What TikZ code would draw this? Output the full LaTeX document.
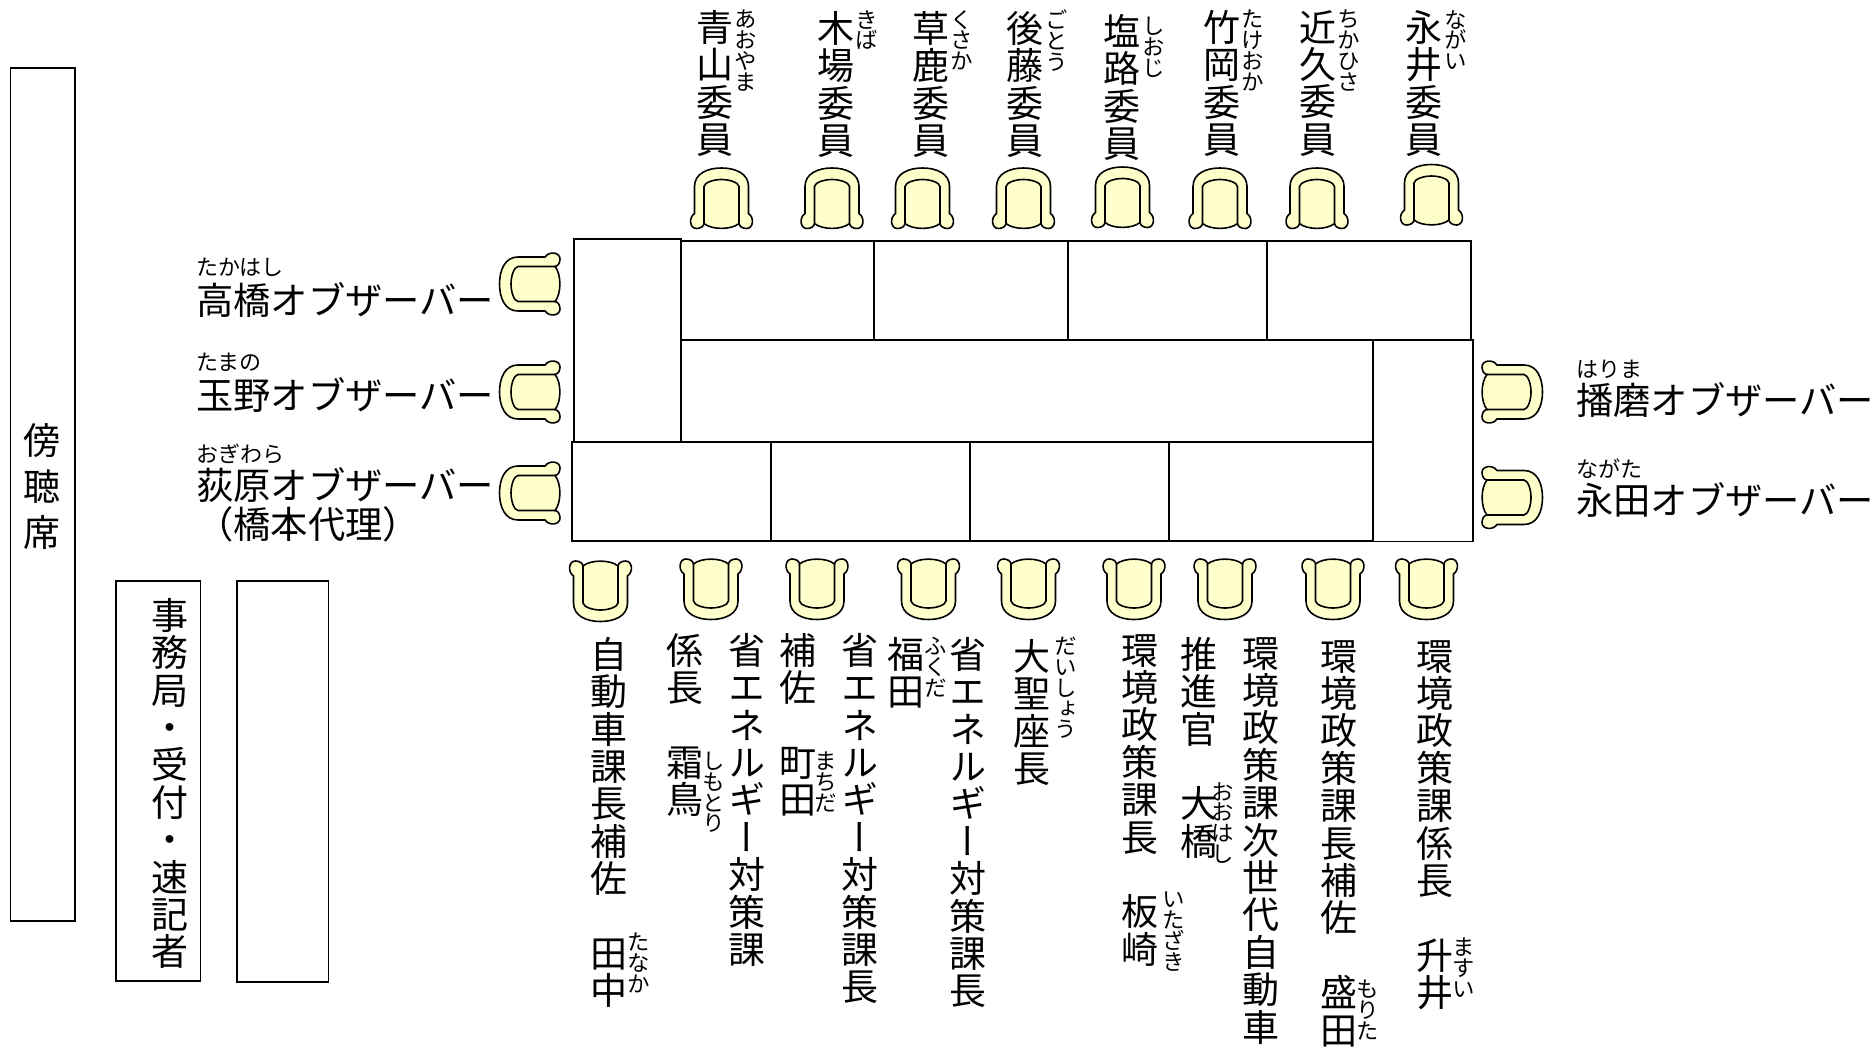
\documentclass[tikz,border=0pt]{standalone}
\usepackage{fontspec}
\newfontfamily\jpfont{Noto Sans CJK JP}
\newfontfamily\jpvert[RawFeature=+vert]{Noto Sans CJK JP}
\newcommand{\namefont}{\jpvert\fontsize{37}{37.4}\selectfont\lineskiplimit=-40pt\relax}
\newcommand{\rubyfont}{\jpvert\fontsize{22.5}{20.8}\selectfont\lineskiplimit=-40pt\relax}
\begin{document}
\begin{tikzpicture}[
		x=1pt,y=-1pt,
		vname/.style={anchor=north,inner sep=0pt,align=center,font=\namefont},
		vruby/.style={anchor=north,inner sep=0pt,align=center,font=\rubyfont},
		hname/.style={anchor=base west,inner sep=0pt,font=\jpfont\fontsize{37.3}{39}\selectfont},
		hruby/.style={anchor=base west,inner sep=0pt,font=\jpfont\fontsize{22}{24}\selectfont},
		tableline/.style={draw=black,line width=1.8pt},
		chair/.pic={
				\draw[line width=1.6pt,fill=chairyellow] (-27,-12) .. controls (-27,-25) and (-14,-30.5) .. (0,-30.5) .. controls (14,-30.5) and (27,-25) .. (27,-12) -- (27,15) .. controls (33,19) and (32,30) .. (25,30) .. controls (21,30) and (18,28) .. (17.5,25) .. controls (10,31.5) and (-10,31.5) .. (-17.5,25) .. controls (-18,28) and (-21,30) .. (-25,30) .. controls (-32,30) and (-33,19) .. (-27,15) -- cycle;
				\draw[line width=1.6pt] (-17.5,25) -- (-17.5,-12) .. controls (-17,-16) and (-8,-19) .. (0,-19) .. controls (8,-19) and (17,-16) .. (17.5,-12) -- (17.5,25);
			}
	]
	\definecolor{chairyellow}{HTML}{FFFFCC}
	\useasboundingbox (0,0) rectangle (1876,1049);

	\draw[tableline] (574,239) rectangle (681,442);
	\draw[tableline] (681,241) rectangle (874,340);
	\draw[tableline] (874,241) rectangle (1068,340);
	\draw[tableline] (1068,241) rectangle (1267,340);
	\draw[tableline] (1267,241) rectangle (1471,340);
	\draw[tableline] (681,340) rectangle (1373,442);
	\draw[tableline] (1373,340) rectangle (1473,541.5);
	\draw[tableline] (572,442) rectangle (771,541);
	\draw[tableline] (771,442) rectangle (970,541);
	\draw[tableline] (970,442) rectangle (1169,541);
	\draw[tableline] (1169,442) rectangle (1373,541);

	\draw[tableline] (10.5,68) rectangle (75,921);
	\draw[tableline] (116,581) rectangle (200.5,981);
	\draw[tableline] (237,581) rectangle (328.5,982);

	\node[vname,font=\jpvert\fontsize{37}{46}\selectfont] (bouchou) at (42,423) {傍\\聴\\席};
	\node[vname] (jimukyoku) at (170,598) {事\\務\\局\\・\\受\\付\\・\\速\\記\\者};

	\pic at (721.5,198.5) {chair};
	\pic at (832,198.5) {chair};
	\pic at (922.5,198.5) {chair};
	\pic at (1023.5,198.5) {chair};
	\pic at (1122.5,197.5) {chair};
	\pic at (1220,198.5) {chair};
	\pic at (1317,198.5) {chair};
	\pic at (1431.5,195) {chair};

	\pic[rotate=180] at (600.5,591) {chair};
	\pic[rotate=180] at (711,589) {chair};
	\pic[rotate=180] at (817,589) {chair};
	\pic[rotate=180] at (928.5,589) {chair};
	\pic[rotate=180] at (1028.5,589) {chair};
	\pic[rotate=180] at (1134,589) {chair};
	\pic[rotate=180] at (1225,589) {chair};
	\pic[rotate=180] at (1333,589) {chair};
	\pic[rotate=180] at (1426.5,589) {chair};

	\pic[rotate=90] at (530,284) {chair};
	\pic[rotate=90] at (530,392) {chair};
	\pic[rotate=90] at (530,493) {chair};
	\pic[rotate=-90] at (1512,392) {chair};
	\pic[rotate=-90] at (1512,497.5) {chair};

	\node[vname] (aoyama) at (715,10) {青\\山\\委\\員};
	\node[vruby] (aoyamaruby) at (746,10) {あ\\お\\や\\ま};
	\node[vname] (kiba) at (835.5,11) {木\\場\\委\\員};
	\node[vruby] (kibaruby) at (867,10) {き\\ば};
	\node[vname] (kusaka) at (931,11) {草\\鹿\\委\\員};
	\node[vruby] (kusakaruby) at (961.5,10) {く\\さ\\か};
	\node[vname] (goto) at (1025,11) {後\\藤\\委\\員};
	\node[vruby] (gotoruby) at (1056.5,10) {ご\\と\\う};
	\node[vname] (shioji) at (1121.5,14) {塩\\路\\委\\員};
	\node[vruby] (shiojiruby) at (1154,17) {し\\お\\じ};
	\node[vname] (takeoka) at (1222,10) {竹\\岡\\委\\員};
	\node[vruby] (takeokaruby) at (1253,10) {た\\け\\お\\か};
	\node[vname] (chikahisa) at (1318,10) {近\\久\\委\\員};
	\node[vruby] (chikahisaruby) at (1349,10) {ち\\か\\ひ\\さ};
	\node[vname] (nagai) at (1424,10) {永\\井\\委\\員};
	\node[vruby] (nagairuby) at (1456,10) {な\\が\\い};

	\node[vname] (tanaka) at (609,637) {自\\動\\車\\課\\長\\補\\佐\\　\\田\\中};
	\node[vruby] (tanakaruby) at (639,933) {た\\な\\か};
	\node[vname] (shimotori) at (685,633) {係\\長\\　\\霜\\鳥};
	\node[vruby] (shimotoriruby) at (714,752) {し\\も\\と\\り};
	\node[vname] (shoene) at (746.5,633) {省\\エ\\ネ\\ル\\ギ\\ー\\対\\策\\課};
	\node[vname] (machida) at (798,633) {補\\佐\\　\\町\\田};
	\node[vruby] (machidaruby) at (826,752) {ま\\ち\\だ};
	\node[vname] (shoenecho) at (860,633) {省\\エ\\ネ\\ル\\ギ\\ー\\対\\策\\課\\長};
	\node[vname] (fukuda) at (905.5,637) {福\\田};
	\node[vruby] (fukudaruby) at (935.5,637) {ふ\\く\\だ};
	\node[vname] (shoenecho2) at (967.5,637) {省\\エ\\ネ\\ル\\ギ\\ー\\対\\策\\課\\長};
	\node[vname] (daisho) at (1032,639) {大\\聖\\座\\長};
	\node[vruby] (daishoruby) at (1066,637) {だ\\い\\し\\ょ\\う};
	\node[vname] (itazaki) at (1140,634) {環\\境\\政\\策\\課\\長\\　\\板\\崎};
	\node[vruby] (itazakiruby) at (1174,892) {い\\た\\ざ\\き};
	\node[vname] (ohashi) at (1199,637) {推\\進\\官\\　\\大\\橋};
	\node[vruby] (ohashiruby) at (1223,782) {お\\お\\は\\し};
	\node[vname] (jisedai) at (1260.5,637) {環\\境\\政\\策\\課\\次\\世\\代\\自\\動\\車};
	\node[vname] (morita) at (1339,640) {環\\境\\政\\策\\課\\長\\補\\佐\\　\\盛\\田};
	\node[vruby] (moritaruby) at (1368,980) {も\\り\\た};
	\node[vname] (masui) at (1435,640) {環\\境\\政\\策\\課\\係\\長\\　\\升\\井};
	\node[vruby] (masuiruby) at (1464,938) {ま\\す\\い};

	\node[hruby] (takahashiruby) at (196,275) {たかはし};
	\node[hname] (takahashi) at (196,314) {高橋オブザーバー};
	\node[hruby] (tamanoruby) at (196,370) {たまの};
	\node[hname] (tamano) at (196,409) {玉野オブザーバー};
	\node[hruby] (ogiwararuby) at (196,462) {おぎわら};
	\node[hname] (ogiwara) at (196,499) {荻原オブザーバー};
	\node[hname] (hashimoto) at (196,538) {（橋本代理）};
	\node[hruby] (harimaruby) at (1576,377) {はりま};
	\node[hname] (harima) at (1576,414) {播磨オブザーバー};
	\node[hruby] (nagataruby) at (1576,477) {ながた};
	\node[hname] (nagata) at (1576,514) {永田オブザーバー};
\end{tikzpicture}
\end{document}
